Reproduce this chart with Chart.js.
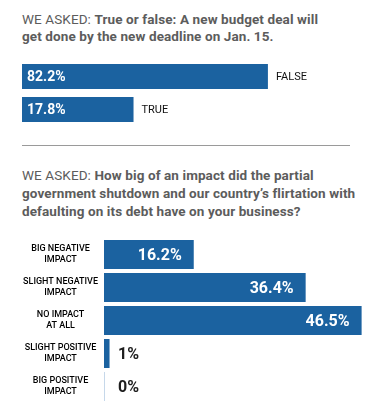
<!DOCTYPE html>
<html>
<head>
<meta charset="utf-8">
<script src="https://cdn.jsdelivr.net/npm/chart.js@4"></script>
<style>
  html,body{margin:0;padding:0;background:#fff;}
  body{width:390px;height:410px;position:relative;overflow:hidden;font-family:Roboto,"Noto Sans",sans-serif;}
  .q{position:absolute;left:22px;color:#5c5c5c;font-size:13.5px;line-height:17px;letter-spacing:0.1px;white-space:nowrap;}
  .q b{font-weight:700;}
  #q1{top:11px;}
  #q2{top:166px;line-height:18px;}
  #rule{position:absolute;left:22px;top:145px;width:328px;height:1px;background:#9a9a9a;}
  #c1wrap{position:absolute;left:22px;top:60px;width:368px;height:66px;}
  #c2wrap{position:absolute;left:0px;top:238px;width:390px;height:165px;}
</style>
</head>
<body>
<div class="q" id="q1">WE ASKED: <b>True or false: A new budget deal will<br>get done by the new deadline on Jan. 15.</b></div>
<div id="c1wrap"><canvas id="c1"></canvas></div>
<div id="rule"></div>
<div class="q" id="q2">WE ASKED: <b>How big of an impact did the partial<br>government shutdown and our country’s flirtation with<br>defaulting on its debt have on your business?</b></div>
<div id="c2wrap"><canvas id="c2"></canvas></div>
<script>
// ---- data ----
const q1Categories = ['FALSE', 'TRUE'];
const q1Values = [82.2, 17.8];

const q2Categories = [
  ['BIG NEGATIVE', 'IMPACT'],
  ['SLIGHT NEGATIVE', 'IMPACT'],
  ['NO IMPACT', 'AT ALL'],
  ['SLIGHT POSITIVE', 'IMPACT'],
  ['BIG POSITIVE', 'IMPACT']
];
const q2Values = [16.2, 36.4, 46.5, 1, 0];

const BLUE = '#1b62a0';
const EDGE = '#c6d8ea';

// ---- chart 1 ----
const labelPlugin1 = {
  id: 'labels1',
  afterDatasetsDraw(chart) {
    const ctx = chart.ctx;
    const meta = chart.getDatasetMeta(0);
    ctx.save();
    ctx.textBaseline = 'middle';
    meta.data.forEach((el, i) => {
      const v = chart.data.datasets[0].data[i];
      ctx.fillStyle = '#ffffff';
      ctx.font = 'bold 14px Roboto';
      ctx.textAlign = 'left';
      ctx.fillText(v.toFixed(1) + '%', el.base + 5, el.y + 1);
      ctx.fillStyle = '#111111';
      ctx.font = '11px Roboto';
      ctx.fillText(chart.data.labels[i], el.x + 8, el.y + 1);
    });
    ctx.restore();
  }
};

new Chart(document.getElementById('c1'), {
  type: 'bar',
  data: {
    labels: q1Categories,
    datasets: [{
      data: q1Values,
      backgroundColor: BLUE,
      borderWidth: 0,
      barPercentage: 0.76,
      categoryPercentage: 1
    }]
  },
  options: {
    indexAxis: 'y',
    responsive: true,
    maintainAspectRatio: false,
    animation: false,
    layout: { padding: 0 },
    plugins: { legend: { display: false }, tooltip: { enabled: false } },
    scales: {
      x: { type: 'logarithmic', min: 5, max: 330, display: false },
      y: { display: false }
    }
  },
  plugins: [labelPlugin1]
});

// ---- chart 2 ----
const labelPlugin2 = {
  id: 'labels2',
  beforeDatasetsDraw(chart) {
    const ctx = chart.ctx;
    const meta = chart.getDatasetMeta(0);
    ctx.save();
    ctx.strokeStyle = EDGE;
    ctx.lineWidth = 1;
    meta.data.forEach((el) => {
      const h = el.height;
      ctx.beginPath();
      ctx.moveTo(Math.round(el.base) + 0.5, el.y - h / 2);
      ctx.lineTo(Math.round(el.base) + 0.5, el.y + h / 2);
      ctx.stroke();
    });
    ctx.restore();
  },
  afterDatasetsDraw(chart) {
    const ctx = chart.ctx;
    const meta = chart.getDatasetMeta(0);
    ctx.save();
    ctx.textBaseline = 'middle';
    ctx.font = 'bold 16px Roboto';
    meta.data.forEach((el, i) => {
      const v = chart.data.datasets[0].data[i];
      const txt = v + '%';
      if (v >= 10) {
        ctx.fillStyle = '#ffffff';
        ctx.textAlign = 'right';
        ctx.fillText(txt, el.x - 12, el.y + 1);
      } else {
        ctx.fillStyle = '#1e1e1e';
        ctx.textAlign = 'left';
        ctx.fillText(txt, el.base + 14, el.y + 1);
      }
    });
    ctx.restore();
  }
};

new Chart(document.getElementById('c2'), {
  type: 'bar',
  data: {
    labels: q2Categories,
    datasets: [{
      data: q2Values,
      backgroundColor: BLUE,
      borderWidth: 0,
      barPercentage: 0.88,
      categoryPercentage: 1
    }]
  },
  options: {
    indexAxis: 'y',
    responsive: true,
    maintainAspectRatio: false,
    animation: false,
    layout: { padding: { left: 0, right: 9, top: 0, bottom: 0 } },
    plugins: { legend: { display: false }, tooltip: { enabled: false } },
    scales: {
      x: { type: 'linear', min: 0, max: 50, display: false },
      y: {
        afterFit(axis) { axis.width = 104; axis.paddingTop = 0; axis.paddingBottom = 0; },
        border: { display: false },
        grid: { display: false, drawTicks: false },
        ticks: {
          crossAlign: 'center',
          padding: 6,
          color: '#000000',
          font: { family: 'Roboto', size: 9, weight: '500', lineHeight: 1.22 }
        }
      }
    }
  },
  plugins: [labelPlugin2]
});
</script>
</body>
</html>
